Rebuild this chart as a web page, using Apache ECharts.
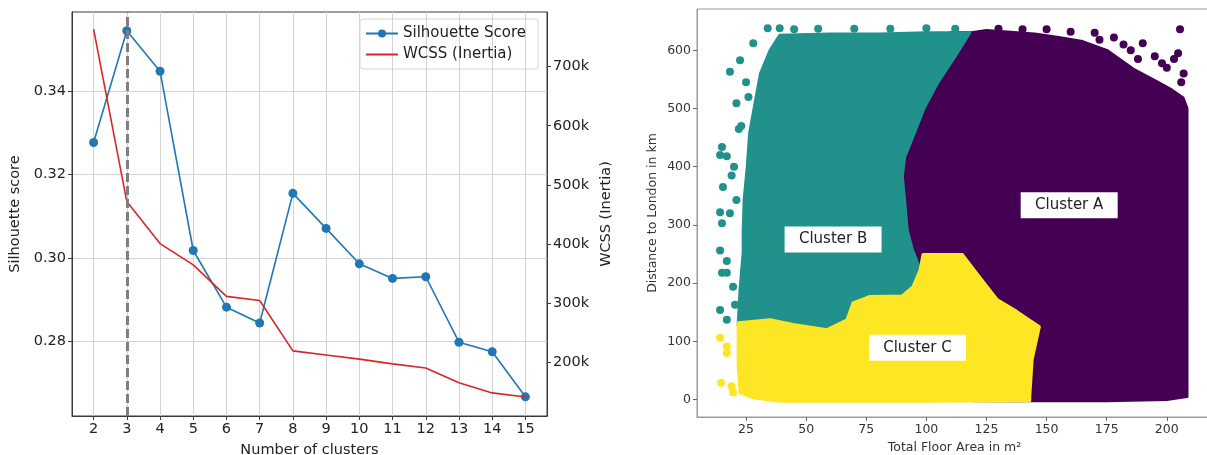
<!DOCTYPE html>
<html>
<head>
<meta charset="utf-8">
<script src="https://cdn.jsdelivr.net/npm/echarts@6/dist/echarts.min.js"></script>
<style>
  html, body { margin: 0; padding: 0; background: #fff; overflow: hidden; }
  #chart { width: 1207px; height: 455px; }
</style>
</head>
<body>
<div id="chart"></div>
<script>
// left panel: elbow / silhouette
const clusterCounts = [2, 3, 4, 5, 6, 7, 8, 9, 10, 11, 12, 13, 14, 15]
const silhouetteScores = [0.3277, 0.3545, 0.3448, 0.3018, 0.2882, 0.2844, 0.3155, 0.3071, 0.2986, 0.2951, 0.2955, 0.2798, 0.2775, 0.2667]
const wcssValues = [763000, 472000, 401000, 365000, 312000, 305000, 220000, 213000, 206000, 198000, 191000, 166000, 149000, 142000]
const bestK = 3
const silhouetteTicks = [0.28, 0.30, 0.32, 0.34]
const wcssTicks = [200000, 300000, 400000, 500000, 600000, 700000]

// right panel: clusters (outline of the dense point cloud + loose points)
const areaTicks = [25, 50, 75, 100, 125, 150, 175, 200]
const distanceTicks = [0, 100, 200, 300, 400, 500, 600]

const clusterAOutline = [
  [118, 630], [125, 634], [135, 631], [145, 628], [155, 622], [165, 615], [175, 600],
  [186, 568], [195, 548], [202, 532], [206.8, 518], [208.4, 500], [208.4, 150], [208.4, 5],
  [200, 0], [175, -2], [150, -2], [120, -2], [85, 150], [85, 600], [110, 630]
]
const clusterBOutline = [
  [39, 626], [60, 628], [80, 628], [100, 630], [118, 630], [112, 590], [104.5, 543],
  [99, 500], [95, 458], [91, 417], [90, 383], [91, 340], [92, 292], [94, 260],
  [97.4, 223], [98.6, 200], [94.5, 185], [90, 170], [76.6, 170], [69.5, 160], [67, 132],
  [58.7, 115], [44.5, 124], [35, 132], [21.7, 128], [22.5, 189], [23.8, 253],
  [23.8, 292], [24.2, 343], [25.5, 400], [26.5, 458], [29, 515], [31, 560], [35, 600]
]
const clusterCOutline = [
  [21.7, 132], [35, 137], [44.5, 129], [58.7, 120], [67, 137], [69.5, 166], [76.6, 177],
  [90, 178], [94.5, 194], [97.4, 223], [98.6, 249], [115, 249], [122, 211], [129.4, 172],
  [137.7, 151], [147, 125], [144, 69], [143, 5], [143, -2], [100, -3], [39, -3],
  [28, 3], [22.5, 12], [21.7, 60], [21.7, 100]
]
const clusterADots = [
  [205.5, 636], [204.7, 595], [130, 637], [140, 636], [150, 636], [160, 632], [170, 630],
  [178, 622], [185, 600], [190, 612], [195, 590], [198, 578], [200, 570], [203, 585],
  [207, 560], [206, 545], [188, 585], [182, 610], [172, 618]
]
const clusterBDots = [
  [14.2, 256], [17, 238], [15, 218], [17, 218], [14.2, 154], [17, 137], [20.4, 163],
  [19.6, 194], [18.3, 563], [21, 509], [15, 434], [14.2, 420], [15.4, 365], [14.2, 322],
  [15, 303], [22.5, 583], [34, 638], [39, 638], [28, 612], [18.3, 320], [21, 343],
  [20, 400], [17, 418], [23, 470], [25, 545], [26, 520], [22, 465], [19, 385],
  [45, 636], [55, 637], [70, 637], [85, 637], [100, 638], [112, 637]
]
const clusterCDots = [[14.2, 106], [17, 91], [17, 80], [14.6, 29], [19.6, 12], [19, 23]]
const clusterLabels = [
  { name: 'Cluster A', x: 159.4, y: 334 },
  { name: 'Cluster B', x: 61.2, y: 275 },
  { name: 'Cluster C', x: 96.3, y: 89 }
]

const FONT = 'DejaVu Sans'
const purple = '#440154'
const teal = '#21918c'
const yellow = '#fde725'

function polygonSeries(points, color) {
  return {
    type: 'custom',
    xAxisIndex: 1,
    yAxisIndex: 2,
    silent: true,
    clip: true,
    data: points,
    encode: { x: 0, y: 1 },
    itemStyle: { color: color },
    renderItem(params, api) {
      if (params.dataIndex !== 0) return
      const pts = points.map(p => api.coord(p))
      return {
        type: 'polygon',
        shape: { points: pts },
        style: { fill: color, stroke: color, lineWidth: 3, lineJoin: 'round' }
      }
    }
  }
}

function dotSeries(points, color) {
  return {
    type: 'scatter',
    xAxisIndex: 1,
    yAxisIndex: 2,
    silent: true,
    symbolSize: 8,
    itemStyle: { color: color, opacity: 1 },
    data: points
  }
}

const chart = echarts.init(document.getElementById('chart'))

chart.setOption({
  animation: false,
  textStyle: { fontFamily: FONT },
  grid: [
    { left: 72, top: 12, width: 475, height: 404, outerBoundsMode: 'none', show: true, borderColor: '#3a3a3a', borderWidth: 1 },
    { left: 697, top: 9, width: 515, height: 408, outerBoundsMode: 'none', show: true, borderColor: '#9a9a9a', borderWidth: 1 }
  ],
  legend: {
    left: 360,
    top: 19,
    orient: 'vertical',
    itemWidth: 32,
    itemHeight: 10,
    itemGap: 6,
    padding: [7, 12, 7, 5],
    borderColor: '#d6d6d6',
    borderWidth: 1,
    borderRadius: 3,
    textStyle: { fontFamily: FONT, fontSize: 15, color: '#222' },
    data: [
      { name: 'Silhouette Score' },
      { name: 'WCSS (Inertia)', itemStyle: { opacity: 0 } }
    ]
  },
  xAxis: [
    {
      gridIndex: 0,
      type: 'value',
      min: 1.35,
      max: 15.65,
      name: 'Number of clusters',
      nameLocation: 'middle',
      nameGap: 27,
      nameTextStyle: { fontFamily: FONT, fontSize: 14.5, color: '#222' },
      axisLine: { show: true, onZero: false, lineStyle: { color: '#3a3a3a' } },
      axisTick: { show: true, length: 4, customValues: clusterCounts, lineStyle: { color: '#3a3a3a' } },
      axisLabel: { customValues: clusterCounts, fontFamily: FONT, fontSize: 14.5, color: '#222', margin: 6 },
      splitLine: { show: true, lineStyle: { color: '#d3d3d3', width: 1 } }
    },
    {
      gridIndex: 1,
      type: 'value',
      min: 4.6,
      max: 218.8,
      name: 'Total Floor Area in m²',
      nameLocation: 'middle',
      nameGap: 22,
      nameTextStyle: { fontFamily: FONT, fontSize: 12.5, color: '#333' },
      axisLine: { show: true, onZero: false, lineStyle: { color: '#9a9a9a' } },
      axisTick: { show: true, length: 4, customValues: areaTicks, lineStyle: { color: '#666' } },
      axisLabel: { customValues: areaTicks, fontFamily: FONT, fontSize: 12.5, color: '#333', margin: 6 },
      splitLine: { show: false }
    }
  ],
  yAxis: [
    {
      gridIndex: 0,
      type: 'value',
      min: 0.2621,
      max: 0.3590,
      name: 'Silhouette score',
      nameLocation: 'middle',
      nameRotate: 90,
      nameGap: 49,
      nameTextStyle: { fontFamily: FONT, fontSize: 14.5, color: '#222' },
      axisLine: { show: true, onZero: false, lineStyle: { color: '#3a3a3a' } },
      axisTick: { show: true, length: 4, customValues: silhouetteTicks, lineStyle: { color: '#3a3a3a' } },
      axisLabel: { customValues: silhouetteTicks, formatter: v => v.toFixed(2), fontFamily: FONT, fontSize: 14.5, color: '#222', margin: 6 },
      splitLine: { show: true, lineStyle: { color: '#d3d3d3', width: 1 } }
    },
    {
      gridIndex: 0,
      type: 'value',
      position: 'right',
      min: 110000,
      max: 792000,
      name: 'WCSS (Inertia)',
      nameLocation: 'middle',
      nameRotate: 90,
      nameGap: 52,
      nameTextStyle: { fontFamily: FONT, fontSize: 14.5, color: '#222' },
      axisLine: { show: true, onZero: false, lineStyle: { color: '#3a3a3a' } },
      axisTick: { show: true, length: 4, customValues: wcssTicks, lineStyle: { color: '#3a3a3a' } },
      axisLabel: { customValues: wcssTicks, formatter: v => (v / 1000) + 'k', fontFamily: FONT, fontSize: 14.5, color: '#222', margin: 6 },
      splitLine: { show: false }
    },
    {
      gridIndex: 1,
      type: 'value',
      min: -30,
      max: 671,
      name: 'Distance to London in km',
      nameLocation: 'middle',
      nameRotate: 90,
      nameGap: 38,
      nameTextStyle: { fontFamily: FONT, fontSize: 12.5, color: '#333' },
      axisLine: { show: true, onZero: false, lineStyle: { color: '#9a9a9a' } },
      axisTick: { show: true, length: 4, customValues: distanceTicks, lineStyle: { color: '#666' } },
      axisLabel: { customValues: distanceTicks, fontFamily: FONT, fontSize: 12.5, color: '#333', margin: 6 },
      splitLine: { show: false }
    }
  ],
  series: [
    {
      name: 'Silhouette Score',
      type: 'line',
      xAxisIndex: 0,
      yAxisIndex: 0,
      data: clusterCounts.map((k, i) => [k, silhouetteScores[i]]),
      symbol: 'circle',
      symbolSize: 9,
      itemStyle: { color: '#1f77b4' },
      lineStyle: { color: '#1f77b4', width: 1.6 },
      z: 3,
      markLine: {
        silent: true,
        symbol: 'none',
        label: { show: false },
        lineStyle: { color: '#7f7f7f', type: [9, 4], width: 3 },
        data: [{ xAxis: bestK }]
      }
    },
    {
      name: 'WCSS (Inertia)',
      type: 'line',
      xAxisIndex: 0,
      yAxisIndex: 1,
      data: clusterCounts.map((k, i) => [k, wcssValues[i]]),
      showSymbol: false,
      symbol: 'none',
      itemStyle: { color: '#d62728' },
      lineStyle: { color: '#d62728', width: 1.6 },
      z: 4
    },
    polygonSeries(clusterAOutline, purple),
    polygonSeries(clusterBOutline, teal),
    polygonSeries(clusterCOutline, yellow),
    dotSeries(clusterADots, purple),
    dotSeries(clusterBDots, teal),
    dotSeries(clusterCDots, yellow),
    {
      type: 'scatter',
      xAxisIndex: 1,
      yAxisIndex: 2,
      silent: true,
      symbol: 'rect',
      symbolSize: [97, 26],
      itemStyle: { color: '#fff', opacity: 1 },
      label: { show: true, position: 'inside', formatter: '{b}', fontFamily: FONT, fontSize: 15, color: '#222' },
      data: clusterLabels.map(l => ({ name: l.name, value: [l.x, l.y] })),
      z: 10
    }
  ]
})
</script>
</body>
</html>
